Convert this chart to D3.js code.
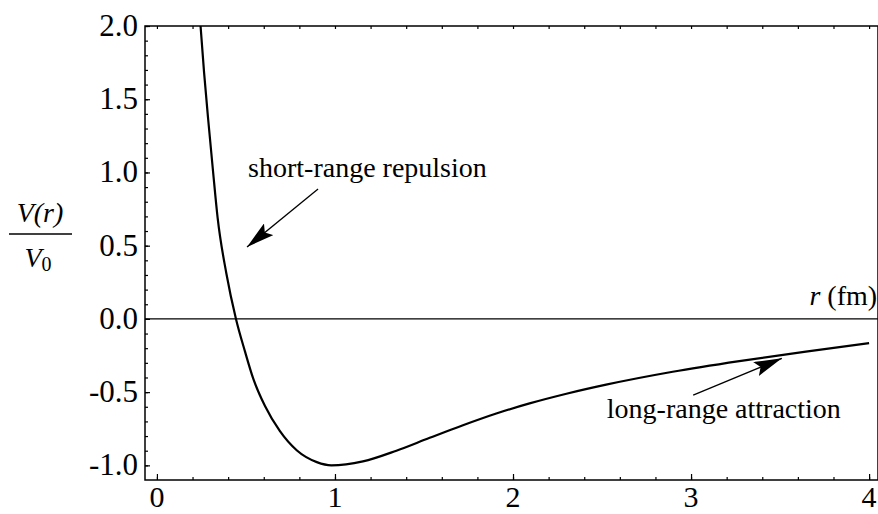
<!DOCTYPE html>
<html>
<head>
<meta charset="utf-8">
<script src="https://cdn.jsdelivr.net/npm/d3@7"></script>
<style>
  body { margin: 0; background: #fff; }
  svg { display: block; font-family: "Liberation Serif", "DejaVu Serif", serif; }
</style>
</head>
<body>
<svg id="chart" width="878" height="514"></svg>
<script>
// potential curve: r in fm, V(r)/V0
var rVals = [0.245, 0.265, 0.288, 0.315, 0.341, 0.39, 0.444, 0.494, 0.541, 0.607, 0.69, 0.785, 0.898, 0.98,
             1.157, 1.345, 1.532, 1.719, 1.906, 2.093, 2.3, 2.523, 2.897, 3.271, 3.645, 4.0]
var vVals = [2.0, 1.68, 1.36, 1.01, 0.69, 0.31, 0.0, -0.22, -0.408, -0.595, -0.765, -0.897, -0.978, -1.0,
             -0.973, -0.900, -0.812, -0.726, -0.646, -0.577, -0.511, -0.449, -0.361, -0.288, -0.223, -0.166]

var yTicks = [-1.0, -0.5, 0.0, 0.5, 1.0, 1.5, 2.0]
var xTicks = [0, 1, 2, 3, 4]

var notes = [
  {text: "short-range repulsion", r: 0.512, v: 0.969, from: [0.905, 0.887], to: [0.506, 0.491]},
  {text: "long-range attraction", r: 2.527, v: -0.677, from: [3.012, -0.52], to: [3.51, -0.269]}
]

var svg = d3.select("#chart")

var x = d3.scaleLinear().domain([-0.067, 4.05]).range([145, 878])
var y = d3.scaleLinear().domain([-1.1, 2.0]).range([480, 26])

var data = rVals.map((r, i) => ({r: r, v: vVals[i]}))

// frame
svg.append("rect")
	.attr("x", x.range()[0]).attr("y", y.range()[1])
	.attr("width", x.range()[1] - x.range()[0])
	.attr("height", y.range()[0] - y.range()[1])
	.attr("fill", "none").attr("stroke", "#000").attr("stroke-width", 1.5)

// zero line
svg.append("line")
	.attr("x1", x.range()[0]).attr("x2", x.range()[1])
	.attr("y1", y(0)).attr("y2", y(0))
	.attr("stroke", "#000").attr("stroke-width", 1.3)

var fmt = d => d3.format(".1f")(d).replace("\u2212", "-")

// minor ticks
var yMinor = d3.range(-10, 21).map(d => d / 10)
var xMinor = d3.range(0, 21).map(d => d / 5)

function noDomain(g) {
	g.call(a => a.select(".domain").remove())
}

svg.append("g").attr("transform", `translate(${x.range()[0]},0)`)
	.call(d3.axisRight(y).tickValues(yMinor).tickSize(3).tickFormat(""))
	.call(noDomain)
svg.append("g").attr("transform", `translate(${x.range()[0]},0)`)
	.call(d3.axisRight(y).tickValues(yTicks).tickSize(5).tickFormat(""))
	.call(noDomain)
svg.append("g").attr("transform", `translate(0,${y.range()[0]})`)
	.call(d3.axisTop(x).tickValues(xMinor).tickSize(3).tickFormat(""))
	.call(noDomain)
svg.append("g").attr("transform", `translate(0,${y.range()[0]})`)
	.call(d3.axisTop(x).tickValues(xTicks).tickSize(6).tickFormat(""))
	.call(noDomain)
svg.append("g").attr("transform", `translate(0,${y.range()[1]})`)
	.call(d3.axisBottom(x).tickValues(xMinor).tickSize(3).tickFormat(""))
	.call(noDomain)

svg.selectAll(".tick line").attr("stroke", "#000").attr("stroke-width", 1.2)

// tick labels
svg.selectAll(".ylab")
	.data(yTicks)
	.enter().append("text")
	.attr("x", x.range()[0] - 7)
	.attr("y", d => y(d) + 10)
	.attr("text-anchor", "end")
	.attr("font-size", 31)
	.text(fmt)

svg.selectAll(".xlab")
	.data(xTicks)
	.enter().append("text")
	.attr("x", d => x(d))
	.attr("y", 507)
	.attr("text-anchor", "middle")
	.attr("font-size", 30)
	.text(d => d)

// curve
svg.append("path")
	.datum(data)
	.attr("fill", "none")
	.attr("stroke", "#000")
	.attr("stroke-width", 2.2)
	.attr("d", d3.line().x(d => x(d.r)).y(d => y(d.v)).curve(d3.curveMonotoneX))

// axis titles
var rl = svg.append("text")
	.attr("x", x(4.045)).attr("y", y(0.094))
	.attr("text-anchor", "end")
	.attr("font-size", 28)
rl.append("tspan").attr("font-style", "italic").text("r")
rl.append("tspan").text(" (fm)")

svg.append("text")
	.attr("x", 40).attr("y", 222)
	.attr("text-anchor", "middle")
	.attr("font-size", 28)
	.attr("font-style", "italic")
	.text("V(r)")
svg.append("line")
	.attr("x1", 9).attr("x2", 72).attr("y1", 234).attr("y2", 234)
	.attr("stroke", "#000").attr("stroke-width", 1.5)
var v0 = svg.append("text")
	.attr("x", 38).attr("y", 267)
	.attr("text-anchor", "middle")
	.attr("font-size", 28)
v0.append("tspan").attr("font-style", "italic").text("V")
v0.append("tspan").attr("font-size", 20).attr("dy", 4).text("0")

// annotations with arrows
svg.append("defs").append("marker")
	.attr("id", "head")
	.attr("viewBox", "0 0 28 15")
	.attr("refX", 28).attr("refY", 7.5)
	.attr("markerWidth", 28).attr("markerHeight", 15)
	.attr("markerUnits", "userSpaceOnUse")
	.attr("orient", "auto")
	.append("path").attr("d", "M0,0 L28,7.5 L0,15 L5,7.5 Z").attr("fill", "#000")

svg.selectAll(".note")
	.data(notes)
	.enter().append("text")
	.attr("x", d => x(d.r)).attr("y", d => y(d.v))
	.attr("font-size", 28)
	.text(d => d.text)

svg.selectAll(".arrow")
	.data(notes)
	.enter().append("line")
	.attr("x1", d => x(d.from[0])).attr("y1", d => y(d.from[1]))
	.attr("x2", d => x(d.to[0])).attr("y2", d => y(d.to[1]))
	.attr("stroke", "#000").attr("stroke-width", 1.3)
	.attr("marker-end", "url(#head)")
</script>
</body>
</html>
